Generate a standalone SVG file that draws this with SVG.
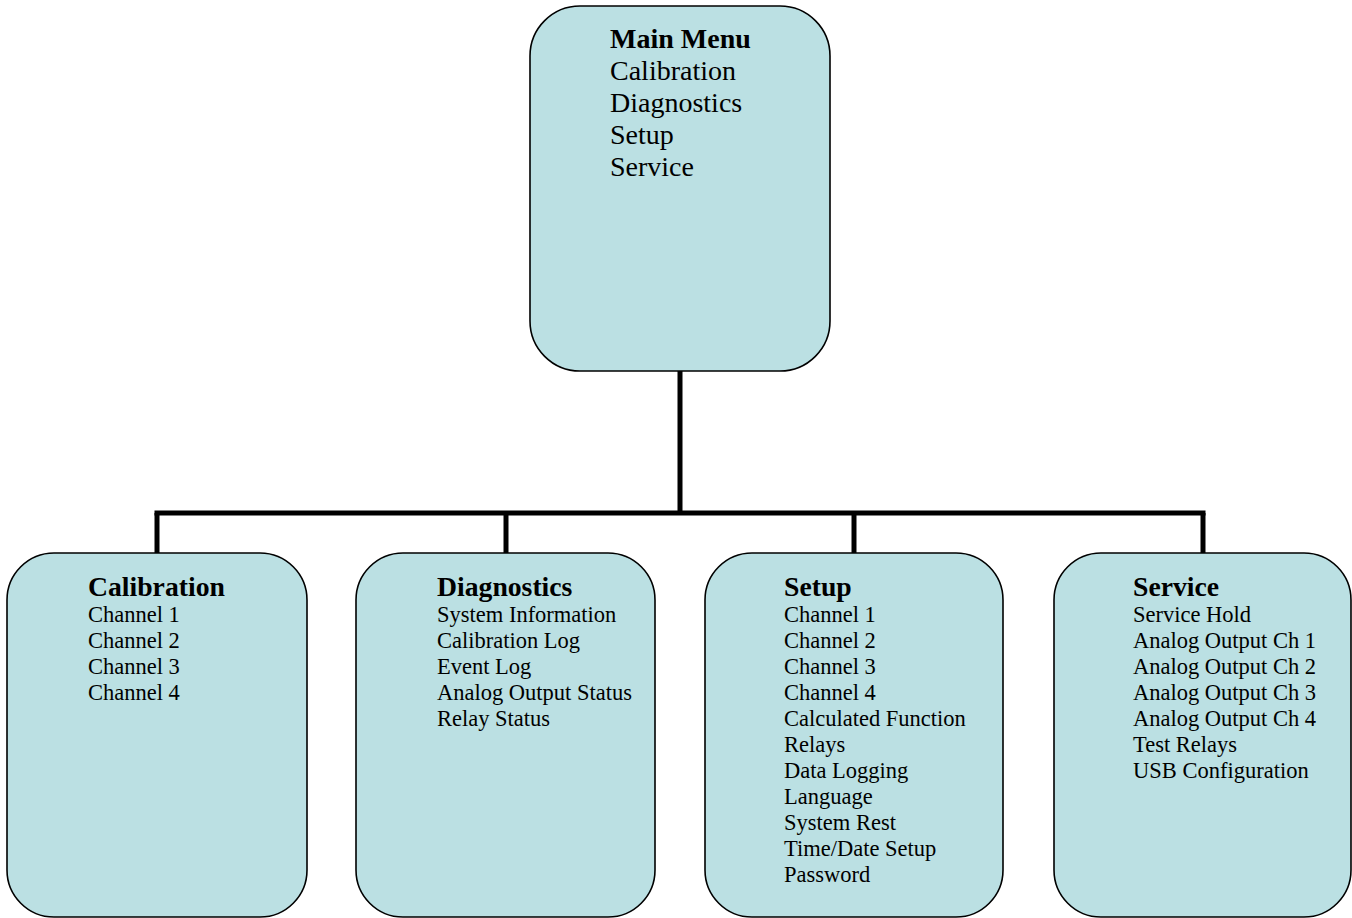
<svg xmlns="http://www.w3.org/2000/svg" width="1352" height="918" viewBox="0 0 1352 918">
<style>
.box{fill:#BBE0E3;stroke:#000;stroke-width:1.6}
.t{font-family:"Liberation Serif","Times New Roman",serif;fill:#000}
.big{font-size:28px}
.title{font-size:27.7px;font-weight:bold}
.item{font-size:22.5px}
.conn{stroke:#000;stroke-width:5;fill:none;stroke-linecap:butt}
</style>
<rect width="1352" height="918" fill="#fff"/>
<g id="connectors">
<line class="conn" x1="680" y1="371" x2="680" y2="513"/>
<line class="conn" x1="154.5" y1="513" x2="1205.5" y2="513"/>
<line class="conn" x1="157" y1="513" x2="157" y2="553"/>
<line class="conn" x1="506" y1="513" x2="506" y2="553"/>
<line class="conn" x1="854" y1="513" x2="854" y2="553"/>
<line class="conn" x1="1203" y1="513" x2="1203" y2="553"/>
</g>
<g id="main">
<rect class="box" x="530" y="6" width="300" height="365" rx="50" ry="50"/>
<text class="t big" x="610" y="48" font-weight="bold">Main Menu</text>
<text class="t big" x="610" y="80">Calibration</text>
<text class="t big" x="610" y="112">Diagnostics</text>
<text class="t big" x="610" y="144">Setup</text>
<text class="t big" x="610" y="176">Service</text>
</g>
<g id="calibration">
<rect class="box" x="7" y="553" width="300" height="364" rx="47" ry="47"/>
<text class="t title" x="88" y="596">Calibration</text>
<text class="t item" x="88" y="622">Channel 1</text>
<text class="t item" x="88" y="648">Channel 2</text>
<text class="t item" x="88" y="674">Channel 3</text>
<text class="t item" x="88" y="700">Channel 4</text>
</g>
<g id="diagnostics">
<rect class="box" x="356" y="553" width="299" height="364" rx="47" ry="47"/>
<text class="t title" x="437" y="596">Diagnostics</text>
<text class="t item" x="437" y="622">System Information</text>
<text class="t item" x="437" y="648">Calibration Log</text>
<text class="t item" x="437" y="674">Event Log</text>
<text class="t item" x="437" y="700">Analog Output Status</text>
<text class="t item" x="437" y="726">Relay Status</text>
</g>
<g id="setup">
<rect class="box" x="705" y="553" width="298" height="364" rx="47" ry="47"/>
<text class="t title" x="784" y="596">Setup</text>
<text class="t item" x="784" y="622">Channel 1</text>
<text class="t item" x="784" y="648">Channel 2</text>
<text class="t item" x="784" y="674">Channel 3</text>
<text class="t item" x="784" y="700">Channel 4</text>
<text class="t item" x="784" y="726">Calculated Function</text>
<text class="t item" x="784" y="752">Relays</text>
<text class="t item" x="784" y="778">Data Logging</text>
<text class="t item" x="784" y="804">Language</text>
<text class="t item" x="784" y="830">System Rest</text>
<text class="t item" x="784" y="856">Time/Date Setup</text>
<text class="t item" x="784" y="882">Password</text>
</g>
<g id="service">
<rect class="box" x="1054" y="553" width="297" height="364" rx="47" ry="47"/>
<text class="t title" x="1133" y="596">Service</text>
<text class="t item" x="1133" y="622">Service Hold</text>
<text class="t item" x="1133" y="648">Analog Output Ch 1</text>
<text class="t item" x="1133" y="674">Analog Output Ch 2</text>
<text class="t item" x="1133" y="700">Analog Output Ch 3</text>
<text class="t item" x="1133" y="726">Analog Output Ch 4</text>
<text class="t item" x="1133" y="752">Test Relays</text>
<text class="t item" x="1133" y="778">USB Configuration</text>
</g>
</svg>
